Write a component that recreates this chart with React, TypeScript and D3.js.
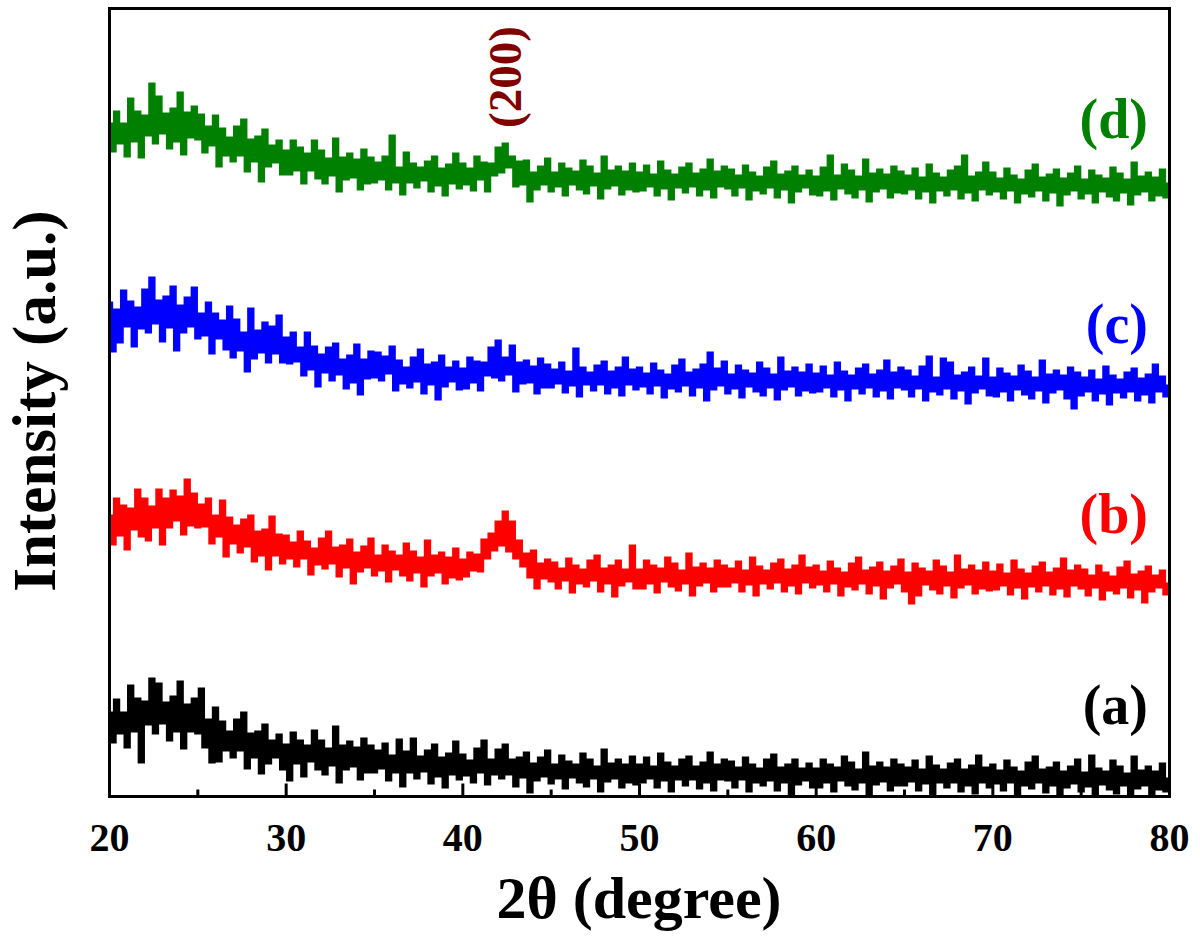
import React from 'react';
import * as d3 from 'd3';

// 2θ sampling grid: 20° .. 80°, step 0.2°
const X_START = 20;
const X_STEP = 0.2;

const X_TICKS = [20, 30, 40, 50, 60, 70, 80];
const X_TICK_LABELS = ['20', '30', '40', '50', '60', '70', '80'];
const X_MINOR_TICKS = [25, 35, 45, 55, 65, 75];

// (a) black
const seriesA = [
  83,55,96,64,83,50,110,66,97,35,94,73,117,64,112,74,93,57,99,66,114,49,91,66,97,
  64,107,50,76,35,88,36,74,47,64,40,76,47,83,29,62,40,64,24,71,34,55,40,61,28,
  51,17,63,34,55,21,50,36,65,28,55,23,47,32,69,15,50,28,54,31,48,18,57,25,50,
  25,45,29,52,17,40,25,56,11,44,25,57,19,39,26,45,14,51,21,38,10,42,23,54,18,
  41,22,35,15,47,25,55,13,36,23,46,19,51,23,36,11,38,20,43,5,32,17,38,21,45,
  14,31,19,40,9,34,20,31,15,42,11,36,19,29,6,46,16,32,19,36,10,31,15,39,13,
  31,15,38,19,29,10,42,17,33,6,29,18,36,12,39,18,29,9,33,15,43,7,31,18,36,
  17,34,10,28,18,38,6,31,15,27,12,36,17,41,7,28,15,31,3,36,13,27,17,32,10,
  27,10,36,15,31,6,28,17,39,12,33,8,26,15,43,3,29,13,33,16,28,7,36,12,31,
  12,28,16,35,7,26,14,39,3,30,15,26,10,32,15,36,6,26,12,30,4,40,15,28,10,
  31,14,25,7,35,15,28,3,24,12,33,9,39,15,26,5,28,12,33,3,24,10,29,14,36,
  6,23,11,40,3,27,13,24,8,35,4,29,12,22,2,39,9,25,12,29,3,24,8,32,6,
  17,
];

// (b) red
const seriesB = [
  280,253,297,262,290,248,287,268,306,261,297,257,289,270,306,253,297,270,305,277,299,263,316,272,302,
  270,291,271,297,254,280,261,295,241,278,254,270,245,276,251,280,236,264,242,266,228,279,242,261,234,
  260,239,253,231,264,239,254,223,247,233,257,229,264,234,248,221,250,230,256,214,243,226,249,230,257,
  222,240,227,250,216,244,228,240,222,252,217,244,225,238,211,255,222,240,225,243,214,238,220,247,218,
  236,221,243,227,241,226,256,239,262,247,274,252,284,246,274,239,255,231,242,220,245,209,232,219,236,
  216,233,209,227,217,237,205,230,214,226,211,235,217,240,206,227,214,230,201,235,212,226,216,250,209,
  226,209,235,214,230,205,227,216,238,211,232,207,225,214,242,202,228,212,232,215,227,206,235,211,230,
  211,227,215,234,206,225,213,238,202,229,214,225,209,232,215,236,206,226,212,230,204,240,215,228,210,
  230,213,224,206,234,214,227,202,223,211,232,208,238,214,225,204,228,212,233,199,224,210,229,214,236,
  206,223,194,232,202,227,213,224,208,235,204,229,212,223,200,240,210,226,213,230,204,225,209,233,207,
  224,208,231,212,222,203,235,210,226,199,222,211,229,206,233,212,223,203,227,209,237,201,225,212,230,
  209,226,202,220,210,230,198,223,207,219,204,228,210,234,200,221,208,224,195,229,206,220,210,225,203,
  212,
];

// (c) blue
const seriesC = [
  493,446,486,455,505,471,494,451,488,469,506,465,518,474,495,456,499,470,509,447,490,465,498,471,508,
  459,482,462,493,444,482,459,475,448,489,440,476,447,463,426,487,439,465,445,473,435,469,444,480,435,
  458,434,463,436,448,422,463,428,449,411,441,425,448,417,452,423,436,409,440,415,451,403,436,419,444,
  420,443,417,439,424,449,407,435,414,428,410,438,416,446,404,431,413,433,398,440,411,428,416,434,408,
  427,409,438,415,434,407,433,422,448,420,455,417,438,423,450,406,433,414,435,415,429,404,437,410,431,
  410,426,414,433,405,424,412,447,401,428,413,423,407,430,413,434,404,424,410,428,402,438,413,426,408,
  428,411,422,404,432,412,425,400,421,409,430,406,436,412,423,402,426,410,431,397,443,408,427,412,434,
  404,421,409,430,400,425,411,422,406,433,402,427,410,421,398,438,408,424,411,428,402,423,407,431,405,
  422,406,429,410,420,401,433,408,424,397,420,409,427,404,431,410,421,401,425,407,435,399,423,410,428,
  408,425,401,419,409,429,397,439,406,418,403,437,409,433,399,420,407,423,394,428,405,419,409,437,402,
  418,401,427,406,422,397,419,408,430,403,424,399,418,407,435,395,421,405,425,408,420,399,428,389,423,
  402,418,406,425,397,416,404,429,393,420,405,416,400,423,406,427,397,417,403,421,395,431,406,419,401,
  410,
];

// (d) green
const seriesD = [
  672,646,684,654,672,641,697,656,684,640,680,662,712,654,699,664,682,649,687,656,703,643,683,660,689,
  658,681,645,669,652,680,631,667,642,658,636,669,642,676,626,656,636,659,616,666,631,650,635,655,623,
  645,623,655,627,648,614,642,627,655,619,645,614,637,622,657,606,638,618,642,620,636,608,646,614,638,
  615,633,618,639,608,660,615,628,603,643,615,632,610,628,617,634,606,639,612,627,602,631,614,642,609,
  632,613,627,607,639,618,633,606,632,622,648,625,652,630,639,611,634,613,635,596,623,608,629,613,637,
  606,623,611,632,602,627,613,624,608,635,604,629,612,622,599,639,609,625,612,629,603,624,608,632,606,
  623,607,630,611,621,602,634,609,625,598,621,610,628,605,632,611,622,602,626,608,636,600,624,611,629,
  609,626,602,620,610,630,598,623,607,619,604,628,610,634,600,621,608,624,595,629,606,620,610,625,603,
  619,602,628,607,640,598,620,609,631,604,625,600,619,608,636,596,622,606,626,609,621,600,629,605,624,
  604,620,608,627,599,618,606,631,595,622,607,618,602,625,608,629,599,640,605,619,597,623,608,633,603,
  623,606,617,599,627,607,620,595,616,604,625,601,631,607,618,597,621,605,626,592,617,603,622,607,629,
  599,616,604,625,595,620,606,617,601,628,597,622,605,616,593,633,603,619,606,623,597,618,602,626,600,
  612,
];

const SERIES_KEYS = ['a', 'b', 'c', 'd'];
const SERIES_VALUES = [seriesA, seriesB, seriesC, seriesD];
const SERIES_LABELS = ['(a)', '(b)', '(c)', '(d)'];
const SERIES_COLORS = ['#000000', '#ff0000', '#0000ff', '#008000'];
// label baselines, in intensity units
const LABEL_LEVELS = [73, 264, 454, 659];

const PEAK_LABEL = '(200)';
const PEAK_POS = 42.3;

const FONT = "'Liberation Serif', 'Times New Roman', Times, serif";

export default function App() {
  const W = 1200;
  const H = 938;
  const left = 109.5, right = 1169.5, top = 8.5, bottom = 796.5;

  const x = d3.scaleLinear().domain([20, 80]).range([left, right]);
  const y = d3.scaleLinear().domain([0, 788]).range([bottom, top]);

  const line = d3
    .line<number>()
    .x((_, i) => x(X_START + i * X_STEP))
    .y((d) => y(d))
    .curve(d3.curveStep);

  return (
    <svg
      width={W}
      height={H}
      style={{ position: 'absolute', left: 0, top: 0, background: '#fff' }}
      fontFamily={FONT}
    >
      <rect x={0} y={0} width={W} height={H} fill="#fff" />
      {SERIES_VALUES.map((vals, k) => (
        <path
          key={SERIES_KEYS[k]}
          d={line(vals) || ''}
          fill="none"
          stroke={SERIES_COLORS[k]}
          strokeWidth={3.8}
          strokeLinejoin="miter"
          strokeLinecap="butt"
        />
      ))}
      {/* frame */}
      <rect x={left} y={top} width={right - left} height={bottom - top} fill="none" stroke="#000" strokeWidth={3} />
      {/* ticks */}
      {X_TICKS.map((t) => (
        <line key={'M' + t} x1={x(t)} x2={x(t)} y1={bottom} y2={bottom - 13} stroke="#000" strokeWidth={3} />
      ))}
      {X_MINOR_TICKS.map((t) => (
        <line key={'m' + t} x1={x(t)} x2={x(t)} y1={bottom} y2={bottom - 7} stroke="#000" strokeWidth={3} />
      ))}
      {X_TICKS.map((t, i) => (
        <text key={'L' + t} x={x(t)} y={851} textAnchor="middle" fontSize={40} fontWeight="bold" fill="#000">
          {X_TICK_LABELS[i]}
        </text>
      ))}
      {/* axis titles */}
      <text x={639} y={918} textAnchor="middle" fontSize={60} fontWeight="bold" fill="#000">
        2θ (degree)
      </text>
      <text
        transform={`translate(55, 401) rotate(-90)`}
        textAnchor="middle"
        fontSize={61}
        fontWeight="bold"
        fill="#000"
      >
        Intensity (a.u.)
      </text>
      {/* series labels */}
      {SERIES_LABELS.map((lab, k) => (
        <text
          key={'lab' + k}
          x={1148}
          y={y(LABEL_LEVELS[k])}
          textAnchor="end"
          fontSize={56}
          fontWeight="bold"
          fill={SERIES_COLORS[k]}
        >
          {lab}
        </text>
      ))}
      {/* peak annotation */}
      <text
        transform={`translate(${x(PEAK_POS) + 18}, 77) rotate(-90)`}
        textAnchor="middle"
        fontSize={47}
        fontWeight="bold"
        fill="#800000"
      >
        {PEAK_LABEL}
      </text>
    </svg>
  );
}
